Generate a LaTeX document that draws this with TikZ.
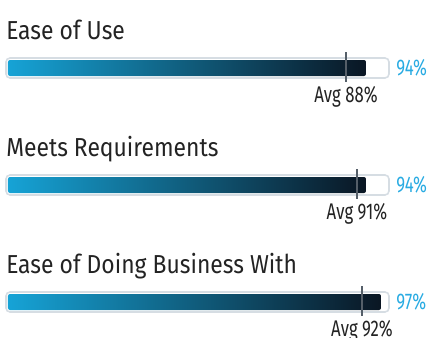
\documentclass[tikz,border=0pt]{standalone}
\usepackage{fontspec}
\setmainfont{Fira Sans}[FakeStretch=0.8]
\newfontfamily\headfont{Fira Sans}[FakeStretch=0.88]
\newfontfamily\narrowfont{Fira Sans}[FakeStretch=0.74]
\usetikzlibrary{positioning, calc}
\definecolor{barcyan}{RGB}{22,163,214}
\definecolor{barteal}{RGB}{25,92,122}
\definecolor{barnavy}{RGB}{10,22,35}
\definecolor{pctblue}{RGB}{41,171,226}
\definecolor{trackgray}{RGB}{214,221,227}
\definecolor{markgray}{RGB}{85,95,105}
\definecolor{inkgray}{RGB}{35,35,35}

\begin{document}
\begin{tikzpicture}[x=0.75pt, y=-0.75pt,
  title/.style={anchor=base west, inner sep=0pt, text=inkgray,
                font=\headfont\fontsize{19.5}{22}\selectfont},
  track/.style={draw=trackgray, fill=white, line width=1.2pt, rounded corners=3pt},
  fillbar/.style={left color=barcyan, middle color=barteal, right color=barnavy,
                  rounded corners=1.5pt},
  avgmark/.style={draw=markgray, line width=1.3pt},
  pct/.style={anchor=west, inner sep=0pt, text=pctblue,
              font=\narrowfont\fontsize{17}{19}\selectfont},
  avg/.style={anchor=north, inner sep=0pt, text=inkgray,
              font=\narrowfont\fontsize{17}{19}\selectfont},
]
\useasboundingbox (0,0) rectangle (430,337);

% Rating bars
\foreach \t/\val/\fx/\aval/\ax [count=\i] in {
    Ease of Use/94/366/88/346,
    Meets Requirements/94/366/91/357,
    Ease of Doing Business With/97/381/92/362}{
  \pgfmathsetmacro{\y}{58+117*(\i-1)}
  \node[title] (title\i) at (6,\y-19) {\t};
  \draw[track] (6,\y) rectangle (389,\y+20);
  \shade[fillbar] (8,\y+2) rectangle (\fx,\y+18);
  \coordinate (mtop\i) at (\ax,\y-6);
  \coordinate (mbot\i) at (\ax,\y+24);
  \draw[avgmark] (mtop\i) -- (mbot\i);
  \node[pct] (pct\i) at (396,\y+10) {\val\%};
  \node[avg] (avg\i) at ($(mbot\i)+(0,4)$) {Avg \aval\%};
}
\end{tikzpicture}
\end{document}
